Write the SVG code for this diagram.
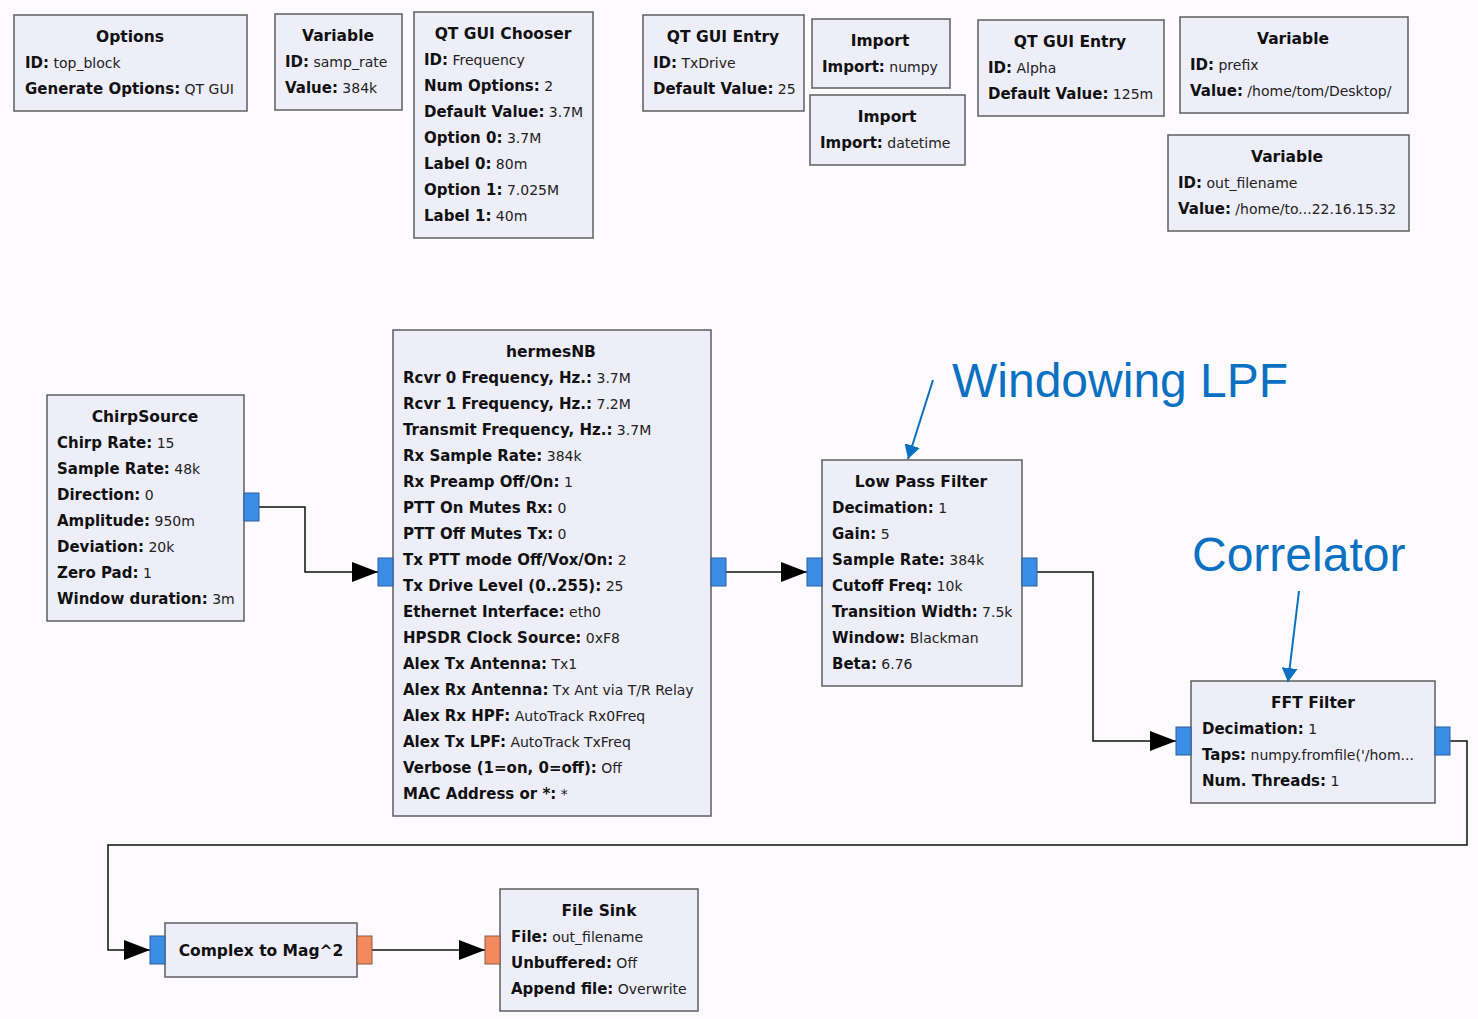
<svg xmlns="http://www.w3.org/2000/svg" width="1478" height="1019" viewBox="0 0 1478 1019">
<style>
.bg{fill:#fcfafd}
.blk{fill:#eeeef9;stroke:#5f5f5f;stroke-width:1.5}
.t{font-family:"DejaVu Sans",sans-serif;font-weight:bold;font-size:15.5px;fill:#111;text-anchor:middle}
.l{font-family:"DejaVu Sans",sans-serif;font-size:14px;fill:#222}
.k{font-weight:bold;font-size:15px;fill:#111}
.pb{fill:#3a8ee6;stroke:#2b5f9e;stroke-width:1}
.po{fill:#f28a5e;stroke:#8c5a42;stroke-width:1}
.c{fill:none;stroke:#111;stroke-width:1.5;marker-end:url(#ah)}
.ann{font-family:"Liberation Sans",Arial,sans-serif;font-size:48px;fill:#0a70c2}
.aa{fill:none;stroke:#0a70c2;stroke-width:2;marker-end:url(#ab)}
</style>
<defs>
<marker id="ah" markerUnits="userSpaceOnUse" markerWidth="26" markerHeight="20" refX="26" refY="10" orient="auto"><path d="M0,0 L26,10 L0,20 z" fill="#000"/></marker>
<marker id="ab" markerUnits="userSpaceOnUse" markerWidth="14" markerHeight="16" refX="14" refY="8" orient="auto"><path d="M0,0 L14,8 L0,16 z" fill="#0a70c2"/></marker>
</defs>
<rect class="bg" x="0" y="0" width="1478" height="1019"/>

<g id="connectors">
<path class="c" d="M259,507 H305 V572 H378"/>
<path class="c" d="M726,572 H807"/>
<path class="c" d="M1037,572 H1093 V741 H1176"/>
<path class="c" d="M1450,741 H1467 V845 H108 V950 H150"/>
<path class="c" d="M372,950 H485"/>
</g>

<g id="options">
<rect class="blk" x="14" y="15" width="233" height="96"/>
<text class="t" x="130" y="42">Options</text>
<text class="l" x="25" y="68"><tspan class="k">ID:</tspan> top_block</text>
<text class="l" x="25" y="94"><tspan class="k">Generate Options:</tspan> QT GUI</text>
</g>

<g id="var_samp_rate">
<rect class="blk" x="275" y="14" width="127" height="96"/>
<text class="t" x="338" y="41">Variable</text>
<text class="l" x="285" y="67"><tspan class="k">ID:</tspan> samp_rate</text>
<text class="l" x="285" y="93"><tspan class="k">Value:</tspan> 384k</text>
</g>

<g id="chooser">
<rect class="blk" x="414" y="12" width="179" height="226"/>
<text class="t" x="503" y="39">QT GUI Chooser</text>
<text class="l" x="424" y="65"><tspan class="k">ID:</tspan> Frequency</text>
<text class="l" x="424" y="91"><tspan class="k">Num Options:</tspan> 2</text>
<text class="l" x="424" y="117"><tspan class="k">Default Value:</tspan> 3.7M</text>
<text class="l" x="424" y="143"><tspan class="k">Option 0:</tspan> 3.7M</text>
<text class="l" x="424" y="169"><tspan class="k">Label 0:</tspan> 80m</text>
<text class="l" x="424" y="195"><tspan class="k">Option 1:</tspan> 7.025M</text>
<text class="l" x="424" y="221"><tspan class="k">Label 1:</tspan> 40m</text>
</g>

<g id="entry_txdrive">
<rect class="blk" x="643" y="15" width="161" height="96"/>
<text class="t" x="723" y="42">QT GUI Entry</text>
<text class="l" x="653" y="68"><tspan class="k">ID:</tspan> TxDrive</text>
<text class="l" x="653" y="94"><tspan class="k">Default Value:</tspan> 25</text>
</g>

<g id="import_numpy">
<rect class="blk" x="812" y="19" width="138" height="69"/>
<text class="t" x="880" y="46">Import</text>
<text class="l" x="822" y="72"><tspan class="k">Import:</tspan> numpy</text>
</g>

<g id="import_datetime">
<rect class="blk" x="810" y="95" width="155" height="70"/>
<text class="t" x="887" y="122">Import</text>
<text class="l" x="820" y="148"><tspan class="k">Import:</tspan> datetime</text>
</g>

<g id="entry_alpha">
<rect class="blk" x="978" y="20" width="186" height="96"/>
<text class="t" x="1070" y="47">QT GUI Entry</text>
<text class="l" x="988" y="73"><tspan class="k">ID:</tspan> Alpha</text>
<text class="l" x="988" y="99"><tspan class="k">Default Value:</tspan> 125m</text>
</g>

<g id="var_prefix">
<rect class="blk" x="1180" y="17" width="228" height="96"/>
<text class="t" x="1293" y="44">Variable</text>
<text class="l" x="1190" y="70"><tspan class="k">ID:</tspan> prefix</text>
<text class="l" x="1190" y="96"><tspan class="k">Value:</tspan> /home/tom/Desktop/</text>
</g>

<g id="var_out_filename">
<rect class="blk" x="1168" y="135" width="241" height="96"/>
<text class="t" x="1287" y="162">Variable</text>
<text class="l" x="1178" y="188"><tspan class="k">ID:</tspan> out_filename</text>
<text class="l" x="1178" y="214"><tspan class="k">Value:</tspan> /home/to...22.16.15.32</text>
</g>

<g id="chirpsource">
<rect class="blk" x="47" y="395" width="197" height="226"/>
<text class="t" x="145" y="422">ChirpSource</text>
<text class="l" x="57" y="448"><tspan class="k">Chirp Rate:</tspan> 15</text>
<text class="l" x="57" y="474"><tspan class="k">Sample Rate:</tspan> 48k</text>
<text class="l" x="57" y="500"><tspan class="k">Direction:</tspan> 0</text>
<text class="l" x="57" y="526"><tspan class="k">Amplitude:</tspan> 950m</text>
<text class="l" x="57" y="552"><tspan class="k">Deviation:</tspan> 20k</text>
<text class="l" x="57" y="578"><tspan class="k">Zero Pad:</tspan> 1</text>
<text class="l" x="57" y="604"><tspan class="k">Window duration:</tspan> 3m</text>
<rect class="pb" x="244" y="493" width="15" height="28"/>
</g>

<g id="hermesnb">
<rect class="blk" x="393" y="330" width="318" height="486"/>
<text class="t" x="551" y="357">hermesNB</text>
<text class="l" x="403" y="383"><tspan class="k">Rcvr 0 Frequency, Hz.:</tspan> 3.7M</text>
<text class="l" x="403" y="409"><tspan class="k">Rcvr 1 Frequency, Hz.:</tspan> 7.2M</text>
<text class="l" x="403" y="435"><tspan class="k">Transmit Frequency, Hz.:</tspan> 3.7M</text>
<text class="l" x="403" y="461"><tspan class="k">Rx Sample Rate:</tspan> 384k</text>
<text class="l" x="403" y="487"><tspan class="k">Rx Preamp Off/On:</tspan> 1</text>
<text class="l" x="403" y="513"><tspan class="k">PTT On Mutes Rx:</tspan> 0</text>
<text class="l" x="403" y="539"><tspan class="k">PTT Off Mutes Tx:</tspan> 0</text>
<text class="l" x="403" y="565"><tspan class="k">Tx PTT mode Off/Vox/On:</tspan> 2</text>
<text class="l" x="403" y="591"><tspan class="k">Tx Drive Level (0..255):</tspan> 25</text>
<text class="l" x="403" y="617"><tspan class="k">Ethernet Interface:</tspan> eth0</text>
<text class="l" x="403" y="643"><tspan class="k">HPSDR Clock Source:</tspan> 0xF8</text>
<text class="l" x="403" y="669"><tspan class="k">Alex Tx Antenna:</tspan> Tx1</text>
<text class="l" x="403" y="695"><tspan class="k">Alex Rx Antenna:</tspan> Tx Ant via T/R Relay</text>
<text class="l" x="403" y="721"><tspan class="k">Alex Rx HPF:</tspan> AutoTrack Rx0Freq</text>
<text class="l" x="403" y="747"><tspan class="k">Alex Tx LPF:</tspan> AutoTrack TxFreq</text>
<text class="l" x="403" y="773"><tspan class="k">Verbose (1=on, 0=off):</tspan> Off</text>
<text class="l" x="403" y="799"><tspan class="k">MAC Address or *:</tspan> *</text>
<rect class="pb" x="378" y="558" width="15" height="28"/>
<rect class="pb" x="711" y="558" width="15" height="28"/>
</g>

<g id="lowpass">
<rect class="blk" x="822" y="460" width="200" height="226"/>
<text class="t" x="921" y="487">Low Pass Filter</text>
<text class="l" x="832" y="513"><tspan class="k">Decimation:</tspan> 1</text>
<text class="l" x="832" y="539"><tspan class="k">Gain:</tspan> 5</text>
<text class="l" x="832" y="565"><tspan class="k">Sample Rate:</tspan> 384k</text>
<text class="l" x="832" y="591"><tspan class="k">Cutoff Freq:</tspan> 10k</text>
<text class="l" x="832" y="617"><tspan class="k">Transition Width:</tspan> 7.5k</text>
<text class="l" x="832" y="643"><tspan class="k">Window:</tspan> Blackman</text>
<text class="l" x="832" y="669"><tspan class="k">Beta:</tspan> 6.76</text>
<rect class="pb" x="807" y="558" width="15" height="28"/>
<rect class="pb" x="1022" y="558" width="15" height="28"/>
</g>

<g id="fftfilter">
<rect class="blk" x="1191" y="681" width="244" height="122"/>
<text class="t" x="1313" y="708">FFT Filter</text>
<text class="l" x="1202" y="734"><tspan class="k">Decimation:</tspan> 1</text>
<text class="l" x="1202" y="760"><tspan class="k">Taps:</tspan> numpy.fromfile('/hom...</text>
<text class="l" x="1202" y="786"><tspan class="k">Num. Threads:</tspan> 1</text>
<rect class="pb" x="1176" y="727" width="15" height="28"/>
<rect class="pb" x="1435" y="727" width="15" height="28"/>
</g>

<g id="complex_to_mag2">
<rect class="blk" x="165" y="923" width="192" height="54"/>
<text class="t" x="261" y="956">Complex to Mag^2</text>
<rect class="pb" x="150" y="936" width="15" height="28"/>
<rect class="po" x="357" y="936" width="15" height="28"/>
</g>

<g id="filesink">
<rect class="blk" x="500" y="889" width="198" height="122"/>
<text class="t" x="599" y="916">File Sink</text>
<text class="l" x="511" y="942"><tspan class="k">File:</tspan> out_filename</text>
<text class="l" x="511" y="968"><tspan class="k">Unbuffered:</tspan> Off</text>
<text class="l" x="511" y="994"><tspan class="k">Append file:</tspan> Overwrite</text>
<rect class="po" x="485" y="936" width="15" height="28"/>
</g>

<g id="annotations">
<text class="ann" x="952" y="397">Windowing LPF</text>
<path class="aa" d="M933,380 L908,459"/>
<text class="ann" x="1192" y="571">Correlator</text>
<path class="aa" d="M1299,591 L1288,682"/>
</g>
</svg>
